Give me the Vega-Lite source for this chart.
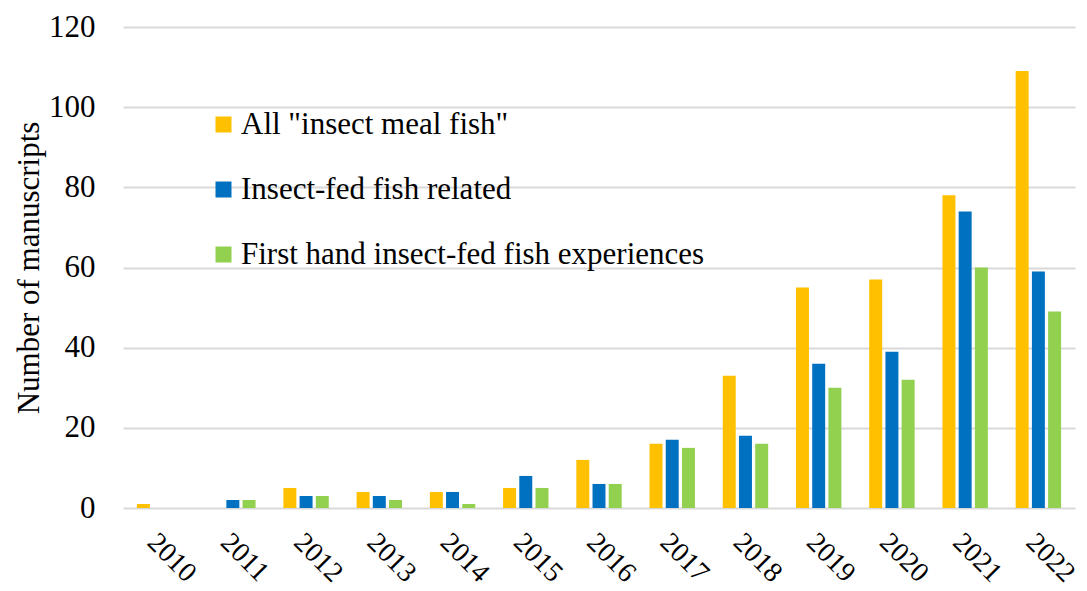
{
  "$schema": "https://vega.github.io/schema/vega-lite/v6.json",
  "autosize": {"type": "none"},
  "width": 952,
  "height": 481,
  "padding": {"left": 123, "top": 27, "right": 12, "bottom": 83},
  "background": "white",
  "config": {
    "font": "Liberation Serif",
    "view": {"stroke": null},
    "axis": {"labelFont": "Liberation Serif", "titleFont": "Liberation Serif", "labelColor": "#000", "titleColor": "#000"},
    "legend": {"labelFont": "Liberation Serif", "labelColor": "#000"}
  },
  "data": {
    "values": [
      {"year": "2010", "series": "All \"insect meal fish\"", "value": 1},
      {"year": "2010", "series": "Insect-fed fish related", "value": 0},
      {"year": "2010", "series": "First hand insect-fed fish experiences", "value": 0},
      {"year": "2011", "series": "All \"insect meal fish\"", "value": 0},
      {"year": "2011", "series": "Insect-fed fish related", "value": 2},
      {"year": "2011", "series": "First hand insect-fed fish experiences", "value": 2},
      {"year": "2012", "series": "All \"insect meal fish\"", "value": 5},
      {"year": "2012", "series": "Insect-fed fish related", "value": 3},
      {"year": "2012", "series": "First hand insect-fed fish experiences", "value": 3},
      {"year": "2013", "series": "All \"insect meal fish\"", "value": 4},
      {"year": "2013", "series": "Insect-fed fish related", "value": 3},
      {"year": "2013", "series": "First hand insect-fed fish experiences", "value": 2},
      {"year": "2014", "series": "All \"insect meal fish\"", "value": 4},
      {"year": "2014", "series": "Insect-fed fish related", "value": 4},
      {"year": "2014", "series": "First hand insect-fed fish experiences", "value": 1},
      {"year": "2015", "series": "All \"insect meal fish\"", "value": 5},
      {"year": "2015", "series": "Insect-fed fish related", "value": 8},
      {"year": "2015", "series": "First hand insect-fed fish experiences", "value": 5},
      {"year": "2016", "series": "All \"insect meal fish\"", "value": 12},
      {"year": "2016", "series": "Insect-fed fish related", "value": 6},
      {"year": "2016", "series": "First hand insect-fed fish experiences", "value": 6},
      {"year": "2017", "series": "All \"insect meal fish\"", "value": 16},
      {"year": "2017", "series": "Insect-fed fish related", "value": 17},
      {"year": "2017", "series": "First hand insect-fed fish experiences", "value": 15},
      {"year": "2018", "series": "All \"insect meal fish\"", "value": 33},
      {"year": "2018", "series": "Insect-fed fish related", "value": 18},
      {"year": "2018", "series": "First hand insect-fed fish experiences", "value": 16},
      {"year": "2019", "series": "All \"insect meal fish\"", "value": 55},
      {"year": "2019", "series": "Insect-fed fish related", "value": 36},
      {"year": "2019", "series": "First hand insect-fed fish experiences", "value": 30},
      {"year": "2020", "series": "All \"insect meal fish\"", "value": 57},
      {"year": "2020", "series": "Insect-fed fish related", "value": 39},
      {"year": "2020", "series": "First hand insect-fed fish experiences", "value": 32},
      {"year": "2021", "series": "All \"insect meal fish\"", "value": 78},
      {"year": "2021", "series": "Insect-fed fish related", "value": 74},
      {"year": "2021", "series": "First hand insect-fed fish experiences", "value": 60},
      {"year": "2022", "series": "All \"insect meal fish\"", "value": 109},
      {"year": "2022", "series": "Insect-fed fish related", "value": 59},
      {"year": "2022", "series": "First hand insect-fed fish experiences", "value": 49}
    ]
  },
  "mark": {"type": "bar"},
  "encoding": {
    "x": {
      "field": "year", "type": "nominal", "sort": null,
      "scale": {"paddingInner": 0.38, "paddingOuter": 0.19},
      "axis": {
        "title": null, "domain": false, "ticks": false, "grid": false,
        "labelAngle": 45, "labelAlign": "left", "labelBaseline": "top",
        "labelPadding": 20, "labelOffset": 2, "labelFontSize": 28
      }
    },
    "xOffset": {
      "field": "series", "type": "nominal", "sort": null,
      "scale": {"paddingInner": 0.2}
    },
    "y": {
      "field": "value", "type": "quantitative",
      "scale": {"domain": [0, 120], "nice": false},
      "axis": {
        "title": "Number of manuscripts", "titleFontSize": 31, "titleFontWeight": "normal",
        "titlePadding": 3,
        "values": [0, 20, 40, 60, 80, 100, 120],
        "domain": false, "ticks": false,
        "labelFontSize": 31, "labelPadding": 28,
        "gridColor": "#d9d9d9", "gridWidth": 2
      }
    },
    "color": {
      "field": "series", "type": "nominal", "sort": null,
      "scale": {"range": ["#FFC000", "#0070C0", "#92D050"]},
      "legend": {
        "title": null, "orient": "none", "legendX": 85, "legendY": 82,
        "symbolType": "square", "symbolSize": 256, "symbolStrokeWidth": 0,
        "labelFontSize": 31, "rowPadding": 33, "labelOffset": 2, "padding": 0,
        "labelLimit": 700
      }
    }
  }
}
